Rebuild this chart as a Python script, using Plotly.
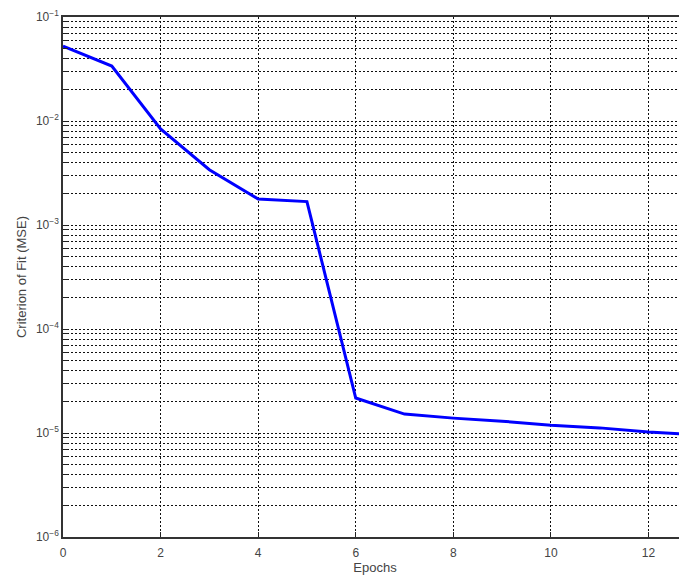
import plotly.graph_objects as go

epochs = [0, 1, 2, 3, 4, 5, 6, 7, 8, 9, 10, 11, 12, 13]
mse = [0.0525, 0.0338, 0.0084, 0.0034, 0.00178, 0.00168, 2.17e-5, 1.52e-5,
       1.39e-5, 1.30e-5, 1.19e-5, 1.12e-5, 1.02e-5, 9.6e-6]

y_tickvals = [1e-6, 1e-5, 1e-4, 1e-3, 1e-2, 1e-1]
y_ticktext = ["10<sup>−6</sup>", "10<sup>−5</sup>", "10<sup>−4</sup>",
              "10<sup>−3</sup>", "10<sup>−2</sup>", "10<sup>−1</sup>"]
y_minor_vals = [m * d for d in [1e-6, 1e-5, 1e-4, 1e-3, 1e-2] for m in range(2, 10)]
x_tickvals = [0, 2, 4, 6, 8, 10, 12]

fig = go.Figure()
fig.add_trace(go.Scatter(x=epochs, y=mse, mode="lines",
                         line=dict(color="#0000ff", width=3), showlegend=False))

font_tick = dict(family="Liberation Sans, Arial, sans-serif", size=12, color="#444")
font_title = dict(family="Liberation Sans, Arial, sans-serif", size=13, color="#444")
grid_dash = "2px,2px"
grid_color = "#111"

fig.update_layout(
    width=679, height=568,
    margin=dict(l=55, r=0, t=9, b=39),
    paper_bgcolor="white", plot_bgcolor="white",
    xaxis=dict(
        range=[0, 12.79], tickmode="array", tickvals=x_tickvals, ticks="inside", ticklen=5,
        tickcolor="#222", showline=True, linecolor="#333", linewidth=1.5, mirror=True,
        showgrid=True, gridcolor=grid_color, griddash=grid_dash, gridwidth=1,
        zeroline=False, tickfont=font_tick, automargin=False, ticklabelstandoff=4,
        title=dict(text="Epochs", font=font_title, standoff=4),
    ),
    yaxis=dict(
        type="log", range=[-6, -1], tickmode="array", tickvals=y_tickvals, ticktext=y_ticktext,
        ticks="inside", ticklen=5, tickcolor="#222",
        showline=True, linecolor="#333", linewidth=1.5, mirror=True,
        showgrid=True, gridcolor=grid_color, griddash=grid_dash, gridwidth=1,
        minor=dict(tickmode="array", tickvals=y_minor_vals, ticks="inside", ticklen=5,
                   tickcolor="#222", showgrid=True,
                   gridcolor=grid_color, griddash=grid_dash, gridwidth=1),
        zeroline=False, tickfont=font_tick, automargin=False,
        title=dict(text="Criterion of Fit (MSE)", font=font_title, standoff=6),
    ),
)

fig.write_html("out.html")
